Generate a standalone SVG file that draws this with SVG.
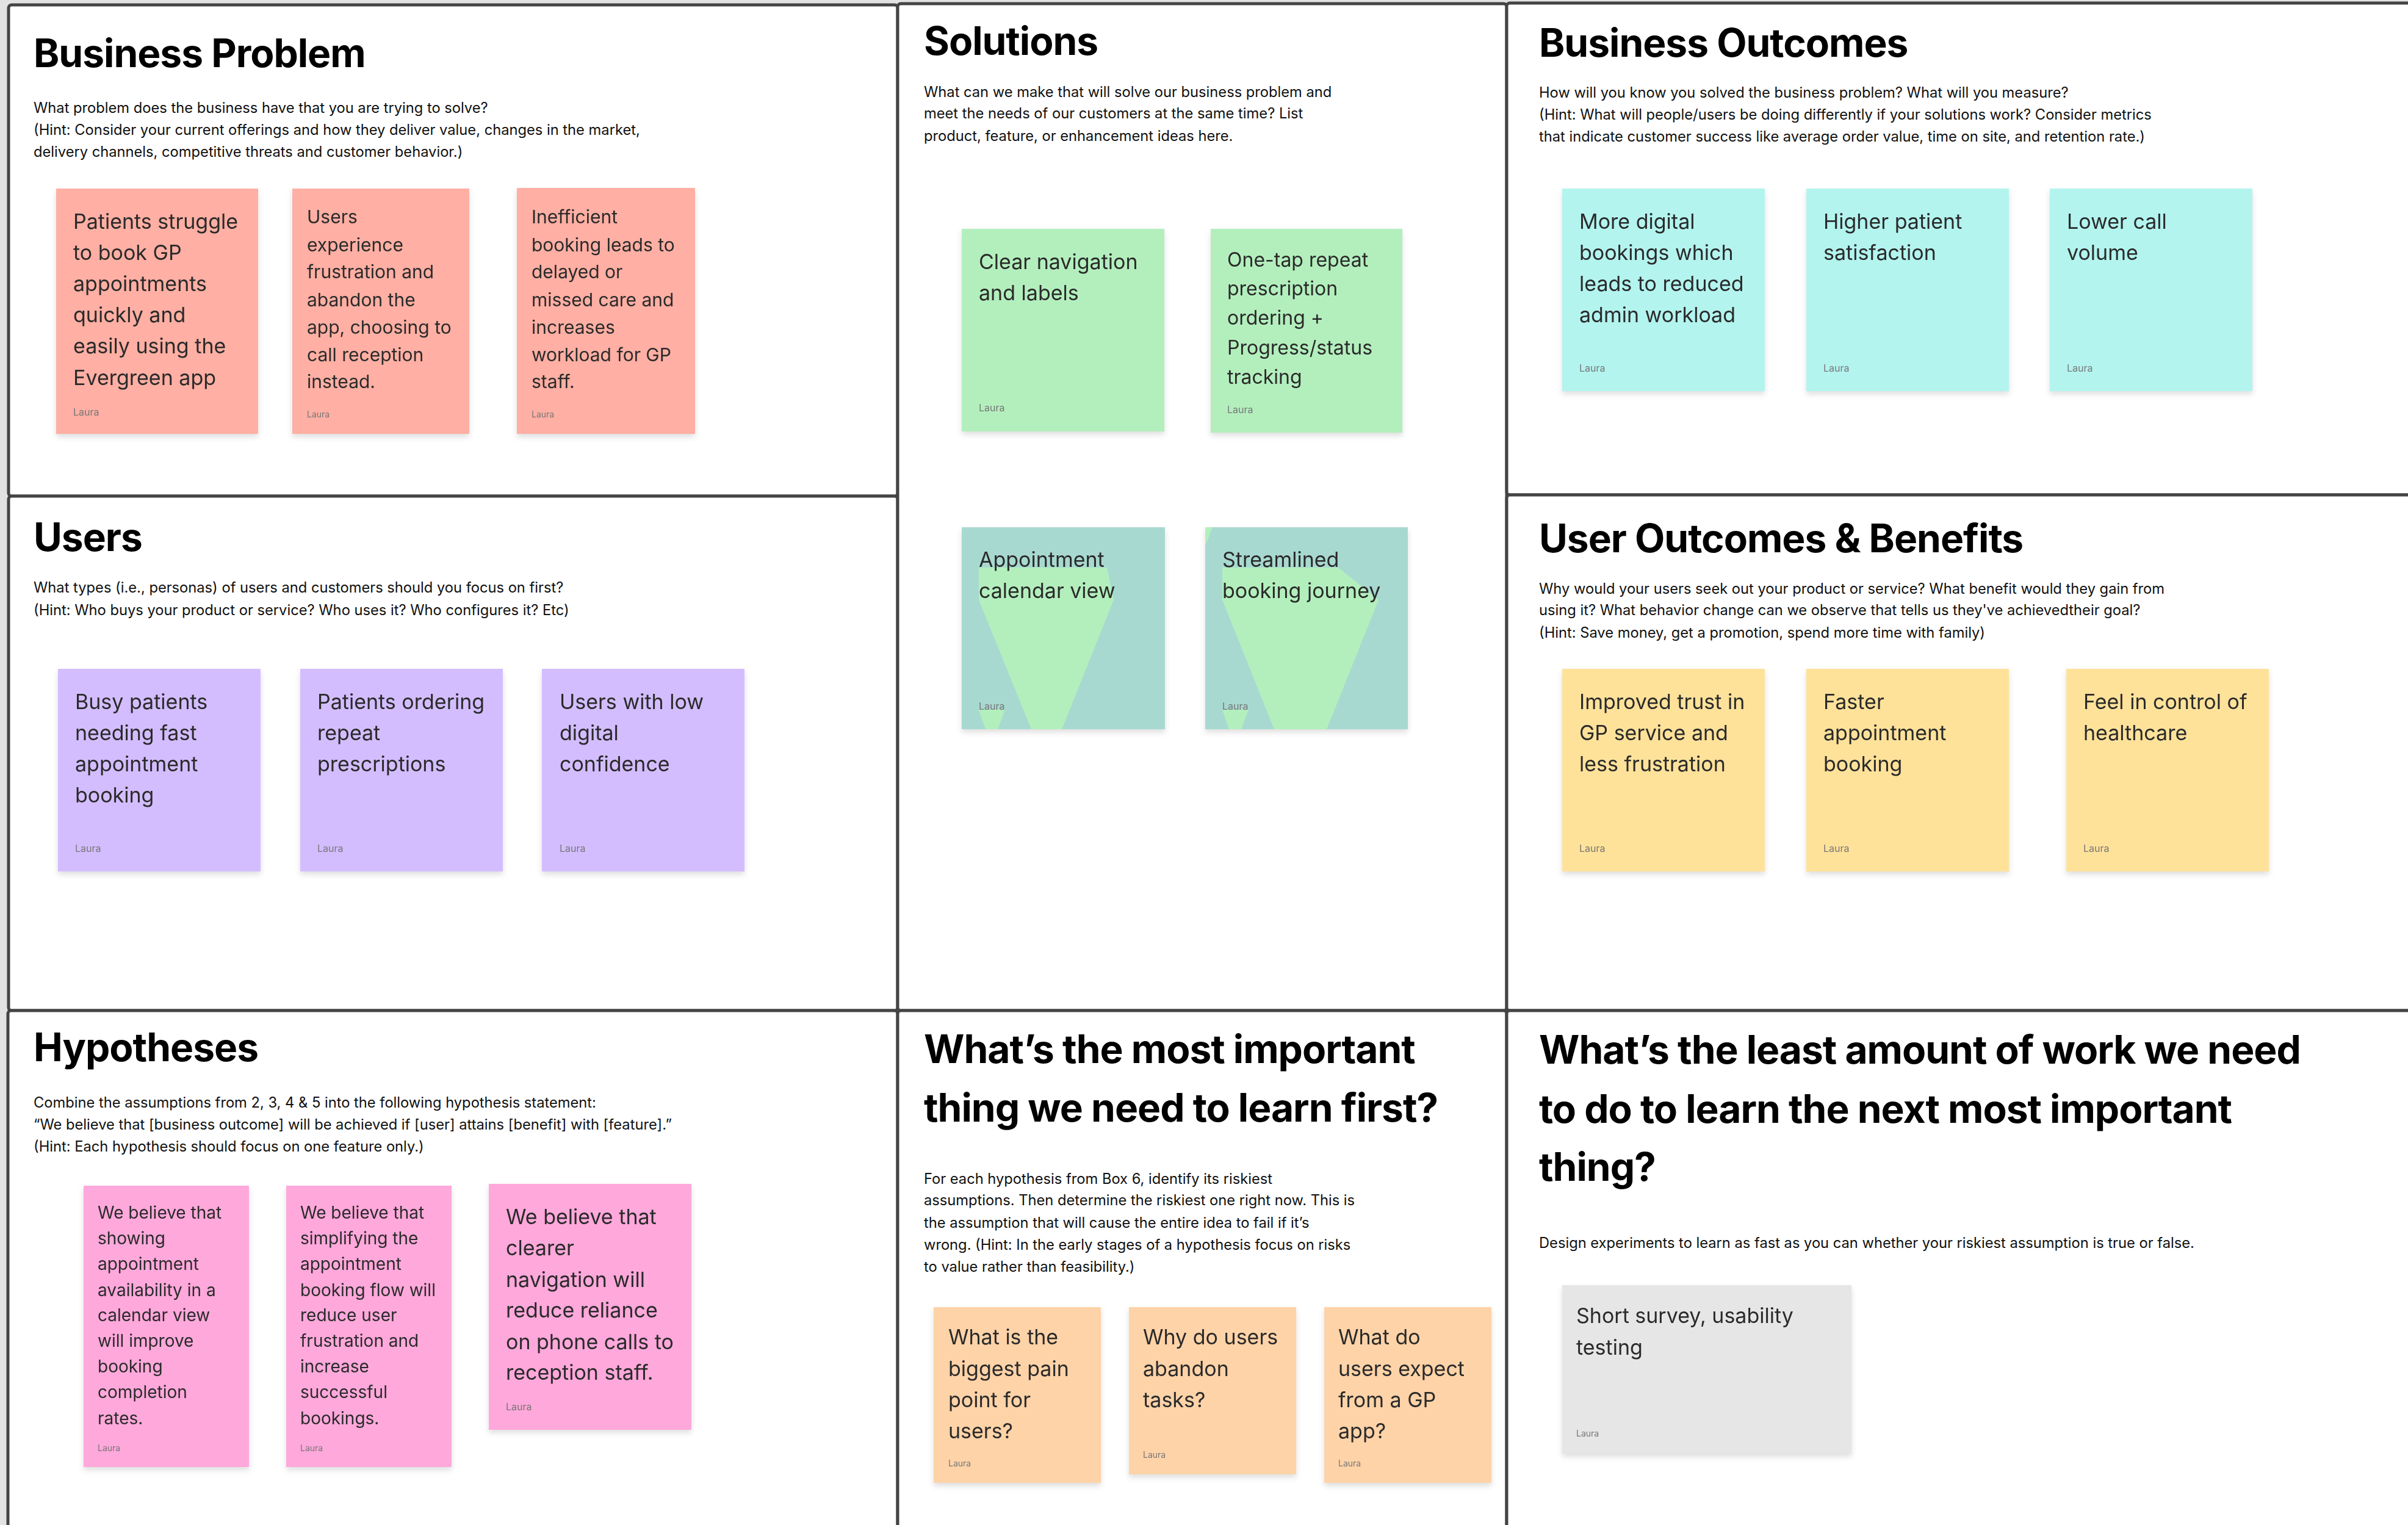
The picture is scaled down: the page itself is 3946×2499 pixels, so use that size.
<svg xmlns="http://www.w3.org/2000/svg" width="3946" height="2499" viewBox="0 0 3946 2499">
<style>
.frame{fill:#ffffff;stroke:#444444;stroke-width:5}
text{font-family:Inter,"Liberation Sans","DejaVu Sans",sans-serif}
.title{font-size:64px;font-weight:700;fill:#000000;letter-spacing:-1px}
.desc{font-size:23.7px;font-weight:400;fill:#111111}
.t34{font-size:34px;fill:#2b2b2b}
.t32{font-size:32px;fill:#2b2b2b}
.t30{font-size:30px;fill:#2b2b2b}
.t28{font-size:28px;fill:#2b2b2b}
.au{font-size:16px;fill:#777777}
.au14{font-size:14px;fill:#777777}
.red{fill:#FFAFA3}
.green{fill:#B3EFBD}
.teal{fill:#B3F4EF}
.violet{fill:#D3BDFF}
.yellow{fill:#FFE29A}
.pink{fill:#FFA8DB}
.orange{fill:#FFD3A8}
.gray{fill:#E6E6E6}
.mixed{fill:#A8D9D0}
.note{filter:url(#shadow)}
</style>
<defs>
<filter id="shadow" x="-10%" y="-10%" width="120%" height="130%">
<feDropShadow dx="0" dy="5" stdDeviation="5" flood-color="#000000" flood-opacity="0.13"/>
</filter>
</defs>
<rect x="0" y="0" width="3946" height="2499" fill="#E2E2E2"/>

<g id="frames">
<rect class="frame" x="14" y="8" width="1457" height="805" rx="5"/>
<rect class="frame" x="14" y="813" width="1457" height="843" rx="5"/>
<rect class="frame" x="13" y="1656" width="1458" height="900" rx="5"/>
<rect class="frame" x="1471" y="6" width="998" height="1650" rx="5"/>
<rect class="frame" x="1471" y="1656" width="998" height="900" rx="5"/>
<rect class="frame" x="2469" y="5" width="1600" height="806" rx="5"/>
<rect class="frame" x="2469" y="811" width="1600" height="845" rx="5"/>
<rect class="frame" x="2469" y="1656" width="1600" height="900" rx="5"/>
</g>

<g id="business-problem">
<text class="title" x="55" y="110">Business Problem</text>
<text class="desc" x="55" y="185">What problem does the business have that you are trying to solve?</text>
<text class="desc" x="55" y="221">(Hint: Consider your current offerings and how they deliver value, changes in the market,</text>
<text class="desc" x="55" y="257">delivery channels, competitive threats and customer behavior.)</text>
<g id="bp-note-1" class="note"><rect class="red" x="92" y="309" width="331" height="402"/>
<text class="t34" x="120"><tspan x="120" y="375">Patients struggle</tspan><tspan x="120" y="426">to book GP</tspan><tspan x="120" y="477">appointments</tspan><tspan x="120" y="528">quickly and</tspan><tspan x="120" y="579">easily using the</tspan><tspan x="120" y="631">Evergreen app</tspan></text>
<text class="au" x="120" y="681">Laura</text></g>
<g id="bp-note-2" class="note"><rect class="red" x="479" y="309" width="290" height="402"/>
<text class="t30"><tspan x="503" y="366">Users</tspan><tspan x="503" y="412">experience</tspan><tspan x="503" y="456">frustration and</tspan><tspan x="503" y="502">abandon the</tspan><tspan x="503" y="547">app, choosing to</tspan><tspan x="503" y="592">call reception</tspan><tspan x="503" y="636">instead.</tspan></text>
<text class="au14" x="503" y="684">Laura</text></g>
<g id="bp-note-3" class="note"><rect class="red" x="847" y="308" width="292" height="403"/>
<text class="t30"><tspan x="871" y="366">Inefficient</tspan><tspan x="871" y="412">booking leads to</tspan><tspan x="871" y="456">delayed or</tspan><tspan x="871" y="502">missed care and</tspan><tspan x="871" y="547">increases</tspan><tspan x="871" y="592">workload for GP</tspan><tspan x="871" y="636">staff.</tspan></text>
<text class="au14" x="871" y="684">Laura</text></g>
</g>

<g id="solutions">
<text class="title" x="1514" y="90">Solutions</text>
<text class="desc" x="1514" y="159">What can we make that will solve our business problem and</text>
<text class="desc" x="1514" y="194">meet the needs of our customers at the same time? List</text>
<text class="desc" x="1514" y="231">product, feature, or enhancement ideas here.</text>
<g id="sol-note-1" class="note"><rect class="green" x="1576" y="375" width="332" height="332"/>
<text class="t34"><tspan x="1604" y="441">Clear navigation</tspan><tspan x="1604" y="492">and labels</tspan></text>
<text class="au" x="1604" y="674">Laura</text></g>
<g id="sol-note-2" class="note"><rect class="green" x="1984" y="375" width="314" height="334"/>
<text class="t32"><tspan x="2011" y="437">One-tap repeat</tspan><tspan x="2011" y="484">prescription</tspan><tspan x="2011" y="532">ordering +</tspan><tspan x="2011" y="581">Progress/status</tspan><tspan x="2011" y="629">tracking</tspan></text>
<text class="au" x="2011" y="677">Laura</text></g>
<g id="sol-note-3" class="note"><rect class="mixed" x="1576" y="864" width="333" height="331"/>
<polygon class="green" points="1604,930 1814,930 1825,983 1740,1195 1690,1195 1604,983"/>
<polygon class="green" points="1604,1163 1647,1163 1635,1195 1615,1195"/>
<text class="t34"><tspan x="1604" y="929">Appointment</tspan><tspan x="1604" y="980">calendar view</tspan></text>
<text class="au" x="1604" y="1163">Laura</text></g>
<g id="sol-note-4" class="note"><rect class="mixed" x="1975" y="864" width="332" height="331"/>
<polygon class="green" points="1975,864 1987,864 1975,894"/>
<polygon class="green" points="2003,930 2193,930 2259,983 2174,1195 2088,1195 2003,983"/>
<polygon class="green" points="2003,1163 2046,1163 2034,1195 2014,1195"/>
<text class="t34"><tspan x="2003" y="929">Streamlined</tspan><tspan x="2003" y="980">booking journey</tspan></text>
<text class="au" x="2003" y="1163">Laura</text></g>
</g>

<g id="business-outcomes">
<text class="title" x="2522" y="93">Business Outcomes</text>
<text class="desc" x="2522" y="160">How will you know you solved the business problem? What will you measure?</text>
<text class="desc" x="2522" y="196">(Hint: What will people/users be doing differently if your solutions work? Consider metrics</text>
<text class="desc" x="2522" y="232">that indicate customer success like average order value, time on site, and retention rate.)</text>
<g id="bo-note-1" class="note"><rect class="teal" x="2560" y="309" width="332" height="332"/>
<text class="t34"><tspan x="2588" y="375">More digital</tspan><tspan x="2588" y="426">bookings which</tspan><tspan x="2588" y="477">leads to reduced</tspan><tspan x="2588" y="528">admin workload</tspan></text>
<text class="au" x="2588" y="609">Laura</text></g>
<g id="bo-note-2" class="note"><rect class="teal" x="2960" y="309" width="332" height="332"/>
<text class="t34"><tspan x="2988" y="375">Higher patient</tspan><tspan x="2988" y="426">satisfaction</tspan></text>
<text class="au" x="2988" y="609">Laura</text></g>
<g id="bo-note-3" class="note"><rect class="teal" x="3359" y="309" width="332" height="332"/>
<text class="t34"><tspan x="3387" y="375">Lower call</tspan><tspan x="3387" y="426">volume</tspan></text>
<text class="au" x="3387" y="609">Laura</text></g>
</g>

<g id="users">
<text class="title" x="55" y="903">Users</text>
<text class="desc" x="55" y="971">What types (i.e., personas) of users and customers should you focus on first?</text>
<text class="desc" x="55" y="1008">(Hint: Who buys your product or service? Who uses it? Who configures it? Etc)</text>
<g id="users-note-1" class="note"><rect class="violet" x="95" y="1096" width="332" height="332"/>
<text class="t34"><tspan x="123" y="1162">Busy patients</tspan><tspan x="123" y="1213">needing fast</tspan><tspan x="123" y="1264">appointment</tspan><tspan x="123" y="1315">booking</tspan></text>
<text class="au" x="123" y="1396">Laura</text></g>
<g id="users-note-2" class="note"><rect class="violet" x="492" y="1096" width="332" height="332"/>
<text class="t34"><tspan x="520" y="1162">Patients ordering</tspan><tspan x="520" y="1213">repeat</tspan><tspan x="520" y="1264">prescriptions</tspan></text>
<text class="au" x="520" y="1396">Laura</text></g>
<g id="users-note-3" class="note"><rect class="violet" x="888" y="1096" width="332" height="332"/>
<text class="t34"><tspan x="917" y="1162">Users with low</tspan><tspan x="917" y="1213">digital</tspan><tspan x="917" y="1264">confidence</tspan></text>
<text class="au" x="917" y="1396">Laura</text></g>
</g>

<g id="user-outcomes">
<text class="title" x="2522" y="905">User Outcomes &amp; Benefits</text>
<text class="desc" x="2522" y="973">Why would your users seek out your product or service? What benefit would they gain from</text>
<text class="desc" x="2522" y="1008">using it? What behavior change can we observe that tells us they've achievedtheir goal?</text>
<text class="desc" x="2522" y="1045">(Hint: Save money, get a promotion, spend more time with family)</text>
<g id="uo-note-1" class="note"><rect class="yellow" x="2560" y="1096" width="332" height="332"/>
<text class="t34"><tspan x="2588" y="1162">Improved trust in</tspan><tspan x="2588" y="1213">GP service and</tspan><tspan x="2588" y="1264">less frustration</tspan></text>
<text class="au" x="2588" y="1396">Laura</text></g>
<g id="uo-note-2" class="note"><rect class="yellow" x="2960" y="1096" width="332" height="332"/>
<text class="t34"><tspan x="2988" y="1162">Faster</tspan><tspan x="2988" y="1213">appointment</tspan><tspan x="2988" y="1264">booking</tspan></text>
<text class="au" x="2988" y="1396">Laura</text></g>
<g id="uo-note-3" class="note"><rect class="yellow" x="3386" y="1096" width="332" height="332"/>
<text class="t34"><tspan x="3414" y="1162">Feel in control of</tspan><tspan x="3414" y="1213">healthcare</tspan></text>
<text class="au" x="3414" y="1396">Laura</text></g>
</g>

<g id="hypotheses">
<text class="title" x="55" y="1739">Hypotheses</text>
<text class="desc" x="55" y="1815">Combine the assumptions from 2, 3, 4 &amp; 5 into the following hypothesis statement:</text>
<text class="desc" x="55" y="1851">“We believe that [business outcome] will be achieved if [user] attains [benefit] with [feature].”</text>
<text class="desc" x="55" y="1887">(Hint: Each hypothesis should focus on one feature only.)</text>
<g id="hyp-note-1" class="note"><rect class="pink" x="137" y="1943" width="271" height="461"/>
<text class="t28"><tspan x="160" y="1997">We believe that</tspan><tspan x="160" y="2039">showing</tspan><tspan x="160" y="2081">appointment</tspan><tspan x="160" y="2124">availability in a</tspan><tspan x="160" y="2165">calendar view</tspan><tspan x="160" y="2207">will improve</tspan><tspan x="160" y="2249">booking</tspan><tspan x="160" y="2291">completion</tspan><tspan x="160" y="2334">rates.</tspan></text>
<text class="au14" x="160" y="2378">Laura</text></g>
<g id="hyp-note-2" class="note"><rect class="pink" x="469" y="1943" width="271" height="461"/>
<text class="t28"><tspan x="492" y="1997">We believe that</tspan><tspan x="492" y="2039">simplifying the</tspan><tspan x="492" y="2081">appointment</tspan><tspan x="492" y="2124">booking flow will</tspan><tspan x="492" y="2165">reduce user</tspan><tspan x="492" y="2207">frustration and</tspan><tspan x="492" y="2249">increase</tspan><tspan x="492" y="2291">successful</tspan><tspan x="492" y="2334">bookings.</tspan></text>
<text class="au14" x="492" y="2378">Laura</text></g>
<g id="hyp-note-3" class="note"><rect class="pink" x="801" y="1940" width="332" height="403"/>
<text class="t34"><tspan x="829" y="2006">We believe that</tspan><tspan x="829" y="2057">clearer</tspan><tspan x="829" y="2109">navigation will</tspan><tspan x="829" y="2159">reduce reliance</tspan><tspan x="829" y="2211">on phone calls to</tspan><tspan x="829" y="2261">reception staff.</tspan></text>
<text class="au" x="829" y="2311">Laura</text></g>
</g>

<g id="most-important">
<text class="title"><tspan x="1514" y="1742">What’s the most important</tspan><tspan x="1514" y="1838">thing we need to learn first?</tspan></text>
<text class="desc" x="1514" y="1940">For each hypothesis from Box 6, identify its riskiest</text>
<text class="desc" x="1514" y="1975">assumptions. Then determine the riskiest one right now. This is</text>
<text class="desc" x="1514" y="2012">the assumption that will cause the entire idea to fail if it’s</text>
<text class="desc" x="1514" y="2048">wrong. (Hint: In the early stages of a hypothesis focus on risks</text>
<text class="desc" x="1514" y="2084">to value rather than feasibility.)</text>
<g id="mi-note-1" class="note"><rect class="orange" x="1530" y="2142" width="274" height="288"/>
<text class="t34"><tspan x="1554" y="2203">What is the</tspan><tspan x="1554" y="2255">biggest pain</tspan><tspan x="1554" y="2306">point for</tspan><tspan x="1554" y="2357">users?</tspan></text>
<text class="au14" x="1554" y="2403">Laura</text></g>
<g id="mi-note-2" class="note"><rect class="orange" x="1850" y="2142" width="274" height="274"/>
<text class="t34"><tspan x="1873" y="2203">Why do users</tspan><tspan x="1873" y="2255">abandon</tspan><tspan x="1873" y="2306">tasks?</tspan></text>
<text class="au14" x="1873" y="2389">Laura</text></g>
<g id="mi-note-3" class="note"><rect class="orange" x="2170" y="2142" width="274" height="288"/>
<text class="t34"><tspan x="2193" y="2203">What do</tspan><tspan x="2193" y="2255">users expect</tspan><tspan x="2193" y="2306">from a GP</tspan><tspan x="2193" y="2357">app?</tspan></text>
<text class="au14" x="2193" y="2403">Laura</text></g>
</g>

<g id="least-work">
<text class="title"><tspan x="2522" y="1743">What’s the least amount of work we need</tspan><tspan x="2522" y="1840">to do to learn the next most important</tspan><tspan x="2522" y="1935">thing?</tspan></text>
<text class="desc" x="2522" y="2045">Design experiments to learn as fast as you can whether your riskiest assumption is true or false.</text>
<g id="lw-note-1" class="note"><rect class="gray" x="2560" y="2106" width="474" height="276"/>
<text class="t34"><tspan x="2583" y="2168">Short survey, usability</tspan><tspan x="2583" y="2220">testing</tspan></text>
<text class="au14" x="2583" y="2354">Laura</text></g>
</g>

<g id="connectors"/>
</svg>
